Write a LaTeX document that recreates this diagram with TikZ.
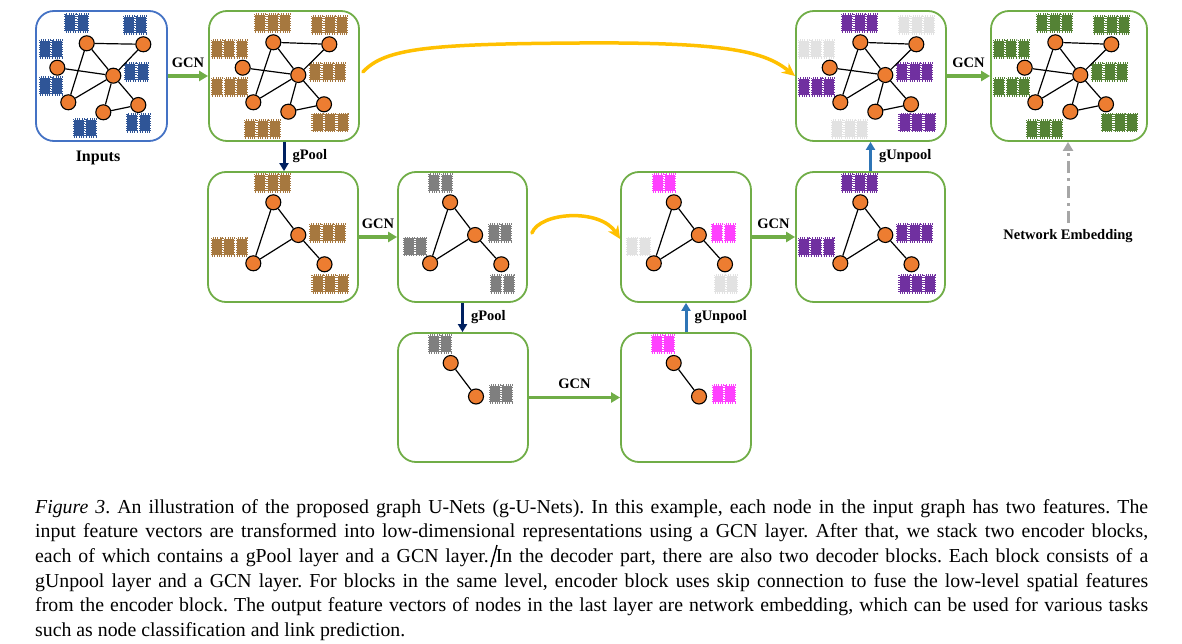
\documentclass[tikz,border=0pt]{standalone}
\usepackage{fontspec}
\setmainfont{Liberation Serif}
\usetikzlibrary{arrows.meta,calc}
\definecolor{gframe}{HTML}{70AD47}
\definecolor{bframe}{HTML}{4472C4}
\definecolor{nodeor}{HTML}{ED7D31}
\definecolor{garrow}{HTML}{70AD47}
\definecolor{navy}{HTML}{002060}
\definecolor{ublue}{HTML}{2E75B6}
\definecolor{skipc}{HTML}{FFC000}
\definecolor{fblue}{HTML}{2F5597}
\definecolor{fbrown}{HTML}{A6783F}
\definecolor{fgray}{HTML}{7F7F7F}
\definecolor{flight}{HTML}{E2E2E2}
\definecolor{fmag}{HTML}{FF40FF}
\definecolor{fpurple}{HTML}{7030A0}
\definecolor{fgreen}{HTML}{548235}
\definecolor{embgray}{HTML}{A6A6A6}
\newcommand\fvec[4]{%
  \foreach \k in {1,...,#3}{%
    \pgfmathsetmacro\fx{#1-(#3*12.5-2.5)/2+(\k-1)*12.5}%
    \fill[#4] (\fx,#2-8.25) rectangle (\fx+10,#2+8.25);
    \draw[#4, line width=1.3pt, dash pattern=on 0.6pt off 1.7pt] (\fx-0.4,#2-8.9) rectangle (\fx+10.4,#2+8.9);
  }}
\newcommand\biggraph[1]{%
  \node[gn] (#1a) at (273.3,42.3) {};
  \node[gn] (#1b) at (329.3,44.3) {};
  \node[gn] (#1c) at (242.7,67.7) {};
  \node[gn] (#1d) at (298.3,75) {};
  \node[gn] (#1e) at (253.3,102.3) {};
  \node[gn] (#1f) at (288.3,111.7) {};
  \node[gn] (#1g) at (324,104.3) {};
  \draw[ed] (#1a)--(#1b) (#1a)--(#1d) (#1a)--(#1e) (#1c)--(#1d) (#1b)--(#1d)
            (#1d)--(#1e) (#1d)--(#1f) (#1d)--(#1g) (#1f)--(#1g);}
\newcommand\trigraph[1]{%
  \node[gn] (#1a) at (273.3,202.3) {};
  \node[gn] (#1b) at (298.3,235) {};
  \node[gn] (#1c) at (253.3,263.3) {};
  \node[gn] (#1d) at (324.5,264.3) {};
  \draw[ed] (#1a)--(#1b) (#1a)--(#1c) (#1c)--(#1b) (#1b)--(#1d);}
\newcommand\duograph[1]{%
  \node[gn] (#1a) at (450.7,363) {};
  \node[gn] (#1b) at (476,396.5) {};
  \draw[ed] (#1a)--(#1b);}
\begin{document}
\frenchspacing
\begin{tikzpicture}[x=1pt,y=-1pt,
  box/.style={draw=gframe, line width=1.8pt, rounded corners=18pt, minimum height=130pt, inner sep=0pt},
  gn/.style={circle, draw=black, fill=nodeor, line width=1.1pt, minimum size=15pt, inner sep=0pt},
  ed/.style={line width=1.2pt, black},
  gcn/.style={line width=3.2pt, draw=garrow, -{Triangle[length=9pt,width=10pt]}},
  pool/.style={line width=3pt, draw=navy, -{Triangle[length=8pt,width=9pt]}},
  unpool/.style={line width=3pt, draw=ublue, -{Triangle[length=8pt,width=9pt]}},
  skip/.style={line width=3.5pt, draw=skipc, line cap=round, -{Stealth[length=13pt,width=12pt]}},
  lab/.style={font=\bfseries\fontsize{14.5}{16}\selectfont, inner sep=0pt},
  above lab/.style={lab, above=7pt},
  right lab/.style={lab, right=7pt}
]
\useasboundingbox (0,0) rectangle (1182,644);
% boxes
\node[box, draw=bframe, minimum width=131pt] (B1) at (101.5,76) {};
\node[box, minimum width=150pt] (B2) at (284,76) {};
\node[box, minimum width=150pt] (B3) at (283,237) {};
\node[box, minimum width=129pt] (B4) at (462.5,237) {};
\node[box, minimum width=130pt] (B5) at (686,237) {};
\node[box, minimum width=149pt] (B6) at (870.5,237) {};
\node[box, minimum width=130pt, minimum height=129pt] (B7) at (463,397.5) {};
\node[box, minimum width=130pt, minimum height=129pt] (B8) at (686,397.5) {};
\node[box, minimum width=150pt] (T1) at (871,76) {};
\node[box, minimum width=156pt] (T2) at (1069,76) {};
% box 1 input graph
\fvec{76.7}{23}{2}{fblue}
\fvec{135}{25}{2}{fblue}
\fvec{51}{49}{2}{fblue}
\fvec{136.7}{72}{2}{fblue}
\fvec{51}{86}{2}{fblue}
\fvec{85}{128}{2}{fblue}
\fvec{138.5}{123}{2}{fblue}
\node[gn] (Ia) at (86.7,43.3) {};
\node[gn] (Ib) at (143.3,44.3) {};
\node[gn] (Ic) at (57.3,67.7) {};
\node[gn] (Id) at (113.3,75.7) {};
\node[gn] (Ie) at (68.3,102.3) {};
\node[gn] (If) at (103.3,112.3) {};
\node[gn] (Ig) at (138.3,105) {};
\draw[ed] (Ia)--(Ib) (Ia)--(Id) (Ia)--(Ie) (Ic)--(Id) (Ib)--(Id)
          (Id)--(Ie) (Id)--(If) (Id)--(Ig) (If)--(Ig);
% box 2
\fvec{272.5}{23}{3}{fbrown}
\fvec{329.5}{25}{3}{fbrown}
\fvec{229.3}{49}{3}{fbrown}
\fvec{327.5}{72}{3}{fbrown}
\fvec{229.7}{87}{3}{fbrown}
\fvec{262.5}{129}{3}{fbrown}
\fvec{330}{122.5}{3}{fbrown}
\biggraph{G}
% top right 1
\begin{scope}[shift={(587,0)}]
\fvec{272.5}{23}{3}{fpurple}
\fvec{329.5}{25}{3}{flight}
\fvec{229.3}{49}{3}{flight}
\fvec{327.5}{72}{3}{fpurple}
\fvec{229.7}{87}{3}{fpurple}
\fvec{262.5}{129}{3}{flight}
\fvec{330}{122.5}{3}{fpurple}
\biggraph{P}
\end{scope}
% top right 2
\begin{scope}[shift={(782,0)}]
\fvec{272.5}{23}{3}{fgreen}
\fvec{329.5}{25}{3}{fgreen}
\fvec{229.3}{49}{3}{fgreen}
\fvec{327.5}{72}{3}{fgreen}
\fvec{229.7}{87}{3}{fgreen}
\fvec{262.5}{129}{3}{fgreen}
\fvec{337.5}{122.5}{3}{fgreen}
\biggraph{Q}
\end{scope}
% box 3
\fvec{272.5}{183}{3}{fbrown}
\fvec{327.5}{233}{3}{fbrown}
\fvec{229.2}{247}{3}{fbrown}
\fvec{330}{284}{3}{fbrown}
\trigraph{R}
% box 6
\begin{scope}[shift={(587,0)}]
\fvec{272.5}{183}{3}{fpurple}
\fvec{327.5}{233}{3}{fpurple}
\fvec{229.2}{247}{3}{fpurple}
\fvec{330}{284}{3}{fpurple}
\trigraph{S}
\end{scope}
% box 4
\fvec{440.5}{183}{2}{fgray}
\fvec{500}{233}{2}{fgray}
\fvec{415}{246.5}{2}{fgray}
\fvec{502.3}{284}{2}{fgray}
\begin{scope}[shift={(176.8,0)}]\trigraph{U}\end{scope}
% box 5
\begin{scope}[shift={(223.5,0)}]
\fvec{440.5}{183}{2}{fmag}
\fvec{500}{233}{2}{fmag}
\fvec{415}{246.5}{2}{flight}
\fvec{502.3}{284}{2}{flight}
\end{scope}
\begin{scope}[shift={(400.5,0)}]\trigraph{V}\end{scope}
% box 7
\fvec{440}{344}{2}{fgray}
\fvec{501}{394}{2}{fgray}
\duograph{W}
% box 8
\begin{scope}[shift={(223,0)}]
\fvec{440}{344}{2}{fmag}
\fvec{501}{394}{2}{fmag}
\duograph{X}
\end{scope}
% labels
\node[lab, font=\bfseries\fontsize{16}{18}\selectfont] (inp) at (98,158) {Inputs};
\node[lab] (NE) at (1068,236) {Network Embedding};
% connectors
\draw[gcn] (B1.east) -- node[above lab] {GCN} (B2.west);
\draw[gcn] (B3.east) -- node[above lab] {GCN} (B4.west);
\draw[gcn] (B7.east) -- node[above lab] {GCN} (B8.west);
\draw[gcn] (B5.east) -- node[above lab] {GCN} (B6.west);
\draw[gcn] (T1.east) -- node[above lab] {GCN} (T2.west);
\draw[pool] (B2.south) -- node[right lab] {gPool} (B2.south |- B3.north);
\draw[pool] (B4.south) -- node[right lab] {gPool} (B4.south |- B7.north);
\draw[unpool] (B8.north) -- node[right lab] {gUnpool} (B8.north |- B5.south);
\draw[unpool] (B6.north) -- node[right lab] {gUnpool} (B6.north |- T1.south);
\draw[embgray, line width=3pt, dash pattern=on 12pt off 5pt on 3pt off 5pt, -{Triangle[length=9pt,width=10pt]}] ([yshift=6pt]NE.north) -- (NE.north |- T2.south);
\draw[skip] ([shift={(3,-4)}]B2.east) .. controls (385,48) and (430,44) .. (580,43) .. controls (730,42) and (765,52) .. (T1.west);
\draw[skip] ([shift={(4,-4)}]B4.east) .. controls (540,212) and (600,208) .. ([yshift=-2pt]B5.west);
% caption
\node[anchor=north west, inner sep=0pt, align=left, font=\fontsize{19.8}{24.7}\selectfont] (cap) at (35,499) {%
\makebox[1113pt][s]{\textit{Figure 3}. An illustration of the proposed graph U-Nets (g-U-Nets). In this example, each node in the input graph has two features. The}\\
\makebox[1113pt][s]{input feature vectors are transformed into low-dimensional representations using a GCN layer. After that, we stack two encoder blocks,}\\
\makebox[1113pt][s]{each of which contains a gPool layer and a GCN layer. In the decoder part, there are also two decoder blocks. Each block consists of a}\\
\makebox[1113pt][s]{gUnpool layer and a GCN layer. For blocks in the same level, encoder block uses skip connection to fuse the low-level spatial features}\\
\makebox[1113pt][s]{from the encoder block. The output feature vectors of nodes in the last layer are network embedding, which can be used for various tasks}\\
such as node classification and link prediction.};
\draw[line width=1.4pt] (491,567) -- (497,545);
\end{tikzpicture}
\end{document}
